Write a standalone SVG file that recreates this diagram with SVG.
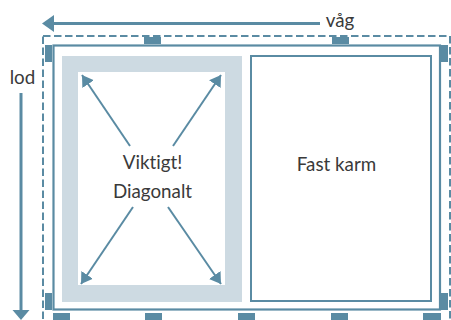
<svg xmlns="http://www.w3.org/2000/svg" width="451" height="320" viewBox="0 0 451 320">
<style>
.t{font-family:"Lato","Noto Sans",sans-serif;font-size:18.800px;fill:#3a3a3a;text-anchor:middle;font-variant-ligatures:none}
.tab{fill:#5a8ba3}
.ln{stroke:#5a8ba3;fill:none}
.ah{fill:#5a8ba3}
</style>
<defs>
<marker id="dh" markerUnits="userSpaceOnUse" markerWidth="14" markerHeight="16" refX="11" refY="8" orient="auto"><path d="M0 1L11 8L0 15Z" class="ah"/></marker>
</defs>
<g id="outer-dashed"><rect class="ln" x="43" y="36" width="407" height="290" stroke-width="2" stroke-dasharray="7.500 3.500"/></g>
<g id="frame"><rect class="ln" x="53.500" y="45.500" width="386.500" height="264" stroke-width="2.200"/></g>
<g id="tabs">
<rect class="tab" x="144" y="37" width="17" height="7"/>
<rect class="tab" x="332" y="37" width="17" height="7"/>
<rect class="tab" x="45" y="45" width="7" height="17"/>
<rect class="tab" x="441" y="45" width="7" height="17"/>
<rect class="tab" x="45" y="293" width="7" height="17"/>
<rect class="tab" x="441" y="293" width="7" height="17"/>
<rect class="tab" x="53" y="313" width="17" height="7"/>
<rect class="tab" x="145" y="313" width="17" height="7"/>
<rect class="tab" x="238" y="313" width="17" height="7"/>
<rect class="tab" x="331" y="313" width="17" height="7"/>
<rect class="tab" x="423" y="313" width="18" height="7"/>
</g>
<g id="viktigt-pane">
<rect x="62" y="56" width="180" height="246" fill="#cddae2"/>
<rect x="78" y="72" width="147" height="213" fill="#fff"/>
<text class="t" x="152.500" y="169">Viktigt!</text>
<text class="t" x="152.500" y="198">Diagonalt</text>
</g>
<g id="fast-karm">
<rect class="ln" x="251" y="56" width="180" height="245" stroke-width="2"/>
<text class="t" x="336.500" y="171">Fast karm</text>
</g>
<g id="connectors">
<path class="ln" stroke-width="3" d="M320 23.500H53"/><path class="ah" d="M42 23.500L54 15V32Z"/>
<path class="ln" stroke-width="3" d="M21 93V311"/><path class="ah" d="M21 320L12.500 310H29.500Z"/>
<g stroke-width="2">
<path class="ln" d="M130 146L82 75" marker-end="url(#dh)"/>
<path class="ln" d="M173 146L221 75" marker-end="url(#dh)"/>
<path class="ln" d="M133 207L81 284" marker-end="url(#dh)"/>
<path class="ln" d="M168 207L221 284" marker-end="url(#dh)"/>
</g>
</g>
<g id="labels">
<text class="t" x="340" y="27">våg</text>
<text class="t" x="22.500" y="84">lod</text>
</g>
</svg>
